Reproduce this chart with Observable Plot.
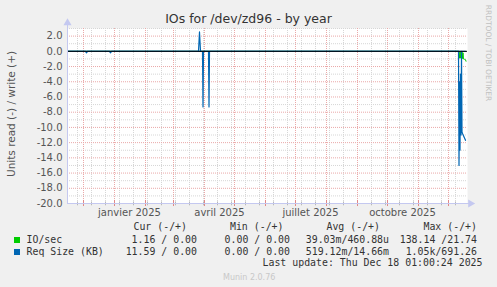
<!DOCTYPE html>
<html><head><meta charset="utf-8">
<script src="https://cdn.jsdelivr.net/npm/d3@7"></script>
<script src="https://cdn.jsdelivr.net/npm/@observablehq/plot@0.6"></script>
<style>
html,body{margin:0;padding:0;background:#f0f0f0;}
#wrap{position:relative;width:497px;height:287px;overflow:hidden;font-family:"DejaVu Sans",sans-serif;background:#f0f0f0;}
#chart{position:absolute;left:0;top:0;}
.abs{position:absolute;white-space:pre;line-height:12px;}
.mono{font-family:"DejaVu Sans Mono",monospace;font-size:9.9px;color:#333;}
</style></head><body>
<div id="wrap"><div id="chart"></div></div>
<script>
// ---- data ----
const titleText = "IOs for /dev/zd96 - by year";
const yLabel = "Units read (-) / write (+)";
const sideText = "RRDTOOL / TOBI OETIKER";
const footerText = "Munin 2.0.76";
const lastUpdate = "Last update: Thu Dec 18 01:00:24 2025";

const xDomain = ["2024-11-15", "2025-12-20"];
const yDomain = [-20, 3];
const yTicks = [2, 0, -2, -4, -6, -8, -10, -12, -14, -16, -18, -20];
const monthLabels = ["janvier 2025", "avril 2025", "juillet 2025", "octobre 2025"];
const monthLabelDates = ["2025-01-16", "2025-04-16", "2025-07-16", "2025-10-16"];

// IO/sec, read side (plotted downward)
const ioReadDates = ["2024-11-15","2025-12-11T12:00Z","2025-12-12T00:00Z","2025-12-12T12:00Z","2025-12-13T00:00Z","2025-12-13T12:00Z","2025-12-14T00:00Z","2025-12-14T12:00Z","2025-12-15T00:00Z","2025-12-15T12:00Z","2025-12-16T00:00Z","2025-12-16T12:00Z","2025-12-17","2025-12-18","2025-12-18T12:00Z"];
const ioRead = [0, 0, 0.9, 0.1, 0.9, 0.1, 0.95, 0.1, 0.95, 0.2, 1.0, 1.0, 1.05, 1.1, 1.3];

// Req Size (KB), write side (plotted upward)
const reqWriteDates = ["2024-11-15","2025-03-26","2025-03-27","2025-03-28","2025-12-18"];
const reqWrite = [0, 0, 2.55, 0, 0];

// Req Size (KB), read side (plotted downward)
const reqReadDates = ["2024-11-15","2024-12-03","2024-12-04","2024-12-05","2024-12-27","2024-12-28","2024-12-29","2025-03-30T00:00Z","2025-03-30T12:00Z","2025-03-31T00:00Z","2025-04-05T00:00Z","2025-04-05T12:00Z","2025-04-06T00:00Z","2025-12-11T00:00Z","2025-12-11T12:00Z","2025-12-12T00:00Z","2025-12-12T12:00Z","2025-12-13T00:00Z","2025-12-13T12:00Z","2025-12-14T00:00Z","2025-12-14T12:00Z","2025-12-15","2025-12-16","2025-12-17","2025-12-18"];
const reqRead = [0, 0, 0.2, 0, 0, 0.2, 0, 0, 7.3, 0, 0, 7.3, 0, 0, 15.0, 4, 13, 3, 11, 0, 10.6, 10.8, 11.1, 11.4, 11.7];

// legend
const legendNames = ["IO/sec", "Req Size (KB)"];
const legendColors = ["#00cc00", "#0066b3"];
const legendHeaders = ["Cur (-/+)", "Min (-/+)", "Avg (-/+)", "Max (-/+)"];
const curVals = ["1.16 / 0.00", "11.59 / 0.00"];
const minVals = ["0.00 / 0.00", "0.00 / 0.00"];
const avgVals = ["39.03m/460.88u", "519.12m/14.66m"];
const maxVals = ["138.14 /21.74", "1.05k/691.26"];

// ---- build ----
const D = s => new Date(s);
const ioData = ioReadDates.map((d, i) => ({date: D(d), value: -ioRead[i]}));
const reqWData = reqWriteDates.map((d, i) => ({date: D(d), value: reqWrite[i]}));
const reqRData = reqReadDates.map((d, i) => ({date: D(d), value: -reqRead[i]}));

const x0 = D(xDomain[0]), x1 = D(xDomain[1]);
const majorX = d3.utcMonth.range(D("2024-12-01"), x1);
const minorX = d3.utcDay.range(D("2024-11-25"), x1, 14);
const majorY = d3.range(-18, 3, 2).filter(v => v !== 0);
const minorY = d3.range(-19, 4, 2);
const gridGrey = "#d6d6d6", gridRed = "#eaa8a8", axisCol = "#c4c8f0";

const chart = Plot.plot({
  width: 497, height: 222,
  marginLeft: 67, marginRight: 30, marginTop: 28, marginBottom: 19,
  style: {background: "transparent", fontFamily: "DejaVu Sans", fontSize: "10px", color: "#555", overflow: "visible"},
  x: {type: "utc", domain: [x0, x1], label: null},
  y: {domain: yDomain, label: null},
  marks: [
    Plot.frame({fill: "white", stroke: null}),
    Plot.ruleY(minorY, {stroke: gridGrey, strokeDasharray: "1,1"}),
    Plot.ruleX(minorX, {stroke: gridGrey, strokeDasharray: "1,1"}),
    Plot.ruleY(majorY, {stroke: gridRed, strokeDasharray: "1,1"}),
    Plot.ruleX(majorX, {stroke: gridRed, strokeDasharray: "1,1"}),
    Plot.ruleX(minorX, {y1: -19.8, y2: -20.3, stroke: "#b8b8b8"}),
    Plot.ruleX(majorX, {y1: -19.6, y2: -20.4, stroke: "#e08888"}),
    Plot.line(ioData, {x: "date", y: "value", stroke: "#00cc00", strokeWidth: 1}),
    Plot.line(reqWData, {x: "date", y: "value", stroke: "#0066b3", strokeWidth: 1.2}),
    Plot.line(reqRData, {x: "date", y: "value", stroke: "#0066b3", strokeWidth: 1.2}),
    Plot.ruleY([0], {stroke: "black", strokeWidth: 1}),
    Plot.ruleX([x0], {y1: -20, y2: 3.5, stroke: axisCol}),
    Plot.ruleY([-20], {x1: x0, x2: D("2025-12-22"), stroke: axisCol}),
    Plot.dot([x0], {x: d => d, y: 3.75, symbol: "triangle", r: 3, fill: axisCol, stroke: null}),
    Plot.dot([D("2025-12-23")], {x: d => d, y: -20, symbol: "triangle", r: 3, rotate: 90, fill: axisCol, stroke: null}),
    Plot.axisY({ticks: yTicks, tickFormat: d => d.toFixed(1), tickSize: 0, tickPadding: 5, fontSize: 10, fill: "#555", label: null}),
    Plot.axisX({ticks: monthLabelDates.map(D), tickFormat: (d, i) => monthLabels[i], tickSize: 0, tickPadding: 5, fontSize: 10, fill: "#555", label: null})
  ]
});
document.getElementById("chart").appendChild(chart);

const wrap = document.getElementById("wrap");
function add(html, style, cls) {
  const el = document.createElement("div");
  el.className = "abs " + (cls || "");
  el.textContent = html;
  Object.assign(el.style, style);
  wrap.appendChild(el);
  return el;
}
// title
add(titleText, {left: "0px", width: "497px", textAlign: "center", top: "11px", fontSize: "12.5px", color: "#333", lineHeight: "16px"});
// y label
add(yLabel, {left: "10.5px", top: "114px", fontSize: "10.5px", color: "#555", transform: "translate(-50%,-50%) rotate(-90deg)", lineHeight: "12px"});
// side text
add(sideText, {left: "488px", top: "53px", fontSize: "7.5px", color: "#c0c0c0", transform: "translate(-50%,-50%) rotate(90deg)", lineHeight: "9px"});
// legend headers
const headRight = [187, 283.5, 380, 477];
const valRight = [197, 290, 389, 477];
legendHeaders.forEach((h, i) => add(h, {right: (497 - headRight[i]) + "px", top: "221px"}, "mono"));
const rowsTop = [234, 246];
legendNames.forEach((n, r) => {
  const sq = document.createElement("div");
  Object.assign(sq.style, {position: "absolute", left: "14px", top: (rowsTop[r] + 3) + "px", width: "6px", height: "6px", background: legendColors[r]});
  wrap.appendChild(sq);
  add(n, {left: "26.5px", top: rowsTop[r] + "px"}, "mono");
  [curVals, minVals, avgVals, maxVals].forEach((arr, c) => add(arr[r], {right: (497 - valRight[c]) + "px", top: rowsTop[r] + "px"}, "mono"));
});
add(lastUpdate, {right: (497 - 482.5) + "px", top: "257px"}, "mono");
add(footerText, {left: "223px", top: "273px", fontSize: "8px", color: "#c8c8c8", lineHeight: "10px"});
</script>
</body></html>
